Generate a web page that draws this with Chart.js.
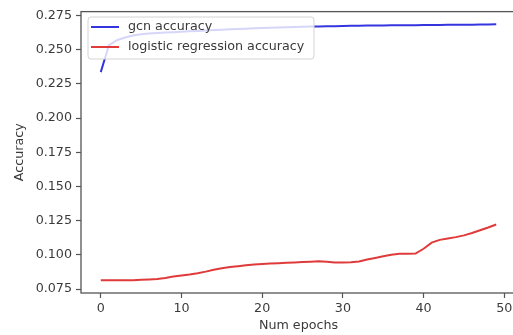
<!DOCTYPE html>
<html>
<head>
<meta charset="utf-8">
<script src="https://cdn.jsdelivr.net/npm/chart.js@4"></script>
<style>
  html, body { margin: 0; padding: 0; background: #fff; overflow: hidden; }
  #wrap { width: 520px; height: 335px; }
</style>
</head>
<body>
<div id="wrap"><canvas id="accChart" width="520" height="335"></canvas></div>
<script>
/* ------------------------------
   DATA
------------------------------ */
const epochs = Array.from({length: 50}, (_, i) => i);

const gcnAccuracy = [
  0.2335, 0.2530, 0.2568, 0.2588, 0.2602, 0.2611, 0.2617, 0.2621, 0.2624, 0.2627,
  0.2630, 0.2633, 0.2636, 0.2639, 0.2642, 0.2645, 0.2648, 0.2650, 0.2652, 0.2655,
  0.2657, 0.2659, 0.2661, 0.2663, 0.2665, 0.2666, 0.2668, 0.2669, 0.2670, 0.2671,
  0.2672, 0.2673, 0.2674, 0.2675, 0.2675, 0.2676, 0.2677, 0.2677, 0.2678, 0.2678,
  0.2679, 0.2680, 0.2680, 0.2681, 0.2681, 0.2682, 0.2682, 0.2683, 0.2683, 0.2684
];

const logRegAccuracy = [
  0.0815, 0.0815, 0.0815, 0.0815, 0.0816, 0.0818, 0.0821, 0.0825, 0.0832, 0.0842,
  0.0850, 0.0857, 0.0866, 0.0878, 0.0892, 0.0903, 0.0912, 0.0918, 0.0924, 0.0930,
  0.0934, 0.0937, 0.0940, 0.0943, 0.0945, 0.0948, 0.0951, 0.0953, 0.0950, 0.0944,
  0.0945, 0.0947, 0.0952, 0.0966, 0.0978, 0.0990, 0.1002, 0.1008, 0.1008, 0.1010,
  0.1045, 0.1090, 0.1110, 0.1120, 0.1130, 0.1143, 0.1160, 0.1180, 0.1200, 0.1222
];

const seriesLabels = ["gcn accuracy", "logistic regression accuracy"];
const xTicks = [0, 10, 20, 30, 40, 50];
const yTicks = [0.075, 0.100, 0.125, 0.150, 0.175, 0.200, 0.225, 0.250, 0.275];

/* ------------------------------
   STYLE
------------------------------ */
const FONT = "'DejaVu Sans', sans-serif";
const FSIZE = 12.7;
const TEXT = "#3a3a3a";
const SPINE = "#555";

/* ------------------------------
   PLUGIN: frame + legend
------------------------------ */
const frameAndLegend = {
  id: "frameAndLegend",
  afterDatasetsDraw(chart) {
    const {ctx, chartArea: a} = chart;
    ctx.save();
    ctx.strokeStyle = SPINE;
    ctx.lineWidth = 1.3;
    ctx.strokeRect(a.left, a.top, a.right - a.left, a.bottom - a.top);

    // legend box, upper left
    const x = 88, y = 17, w = 226, h = 42, r = 3;
    ctx.beginPath();
    ctx.roundRect(x, y, w, h, r);
    ctx.fillStyle = "rgba(255,255,255,0.8)";
    ctx.fill();
    ctx.strokeStyle = "#d4d4d4";
    ctx.lineWidth = 1;
    ctx.stroke();

    chart.data.datasets.forEach((ds, i) => {
      const ly = 27 + i * 20;
      ctx.beginPath();
      ctx.moveTo(91, ly);
      ctx.lineTo(119, ly);
      ctx.strokeStyle = ds.borderColor;
      ctx.lineWidth = 2;
      ctx.stroke();
      ctx.fillStyle = TEXT;
      ctx.font = FSIZE + "px " + FONT;
      ctx.textBaseline = "middle";
      ctx.fillText(ds.label, 128, ly);
    });
    ctx.restore();
  }
};

/* ------------------------------
   CHART
------------------------------ */
const ctx = document.getElementById("accChart");
new Chart(ctx, {
  type: "line",
  data: {
    datasets: [
      {
        label: seriesLabels[0],
        data: epochs.map((e, i) => ({x: e, y: gcnAccuracy[i]})),
        borderColor: "#3535e0",
        borderWidth: 2,
        pointRadius: 0,
        tension: 0
      },
      {
        label: seriesLabels[1],
        data: epochs.map((e, i) => ({x: e, y: logRegAccuracy[i]})),
        borderColor: "#e03a3a",
        borderWidth: 2,
        pointRadius: 0,
        tension: 0
      }
    ]
  },
  options: {
    responsive: false,
    animation: false,
    layout: {padding: {top: 10, right: 4, left: 0, bottom: 0}},
    plugins: {legend: {display: false}, tooltip: {enabled: false}},
    scales: {
      x: {
        type: "linear",
        min: -2.45,
        max: 51.45,
        afterBuildTicks: s => { s.ticks = xTicks.map(v => ({value: v})); },
        afterFit: s => { s.height = 42; },
        border: {display: false},
        grid: {drawOnChartArea: false, drawTicks: true, tickLength: 5, tickColor: SPINE, tickWidth: 1.2},
        ticks: {color: TEXT, font: {family: FONT, size: FSIZE}, padding: 3, maxRotation: 0},
        title: {display: true, text: "Num epochs", color: TEXT, font: {family: FONT, size: FSIZE}, padding: {top: 0, bottom: 1.4}}
      },
      y: {
        min: 0.0722,
        max: 0.2777,
        afterBuildTicks: s => { s.ticks = yTicks.map(v => ({value: v})); },
        afterFit: s => { s.width = 81; },
        border: {display: false},
        grid: {drawOnChartArea: false, drawTicks: true, tickLength: 5, tickColor: SPINE, tickWidth: 1.2},
        ticks: {color: TEXT, font: {family: FONT, size: FSIZE}, padding: 4, callback: v => v.toFixed(3)},
        title: {display: true, text: "Accuracy", color: TEXT, font: {family: FONT, size: FSIZE}, padding: {top: 12.4, bottom: 0}}
      }
    }
  },
  plugins: [frameAndLegend]
});
</script>
</body>
</html>
